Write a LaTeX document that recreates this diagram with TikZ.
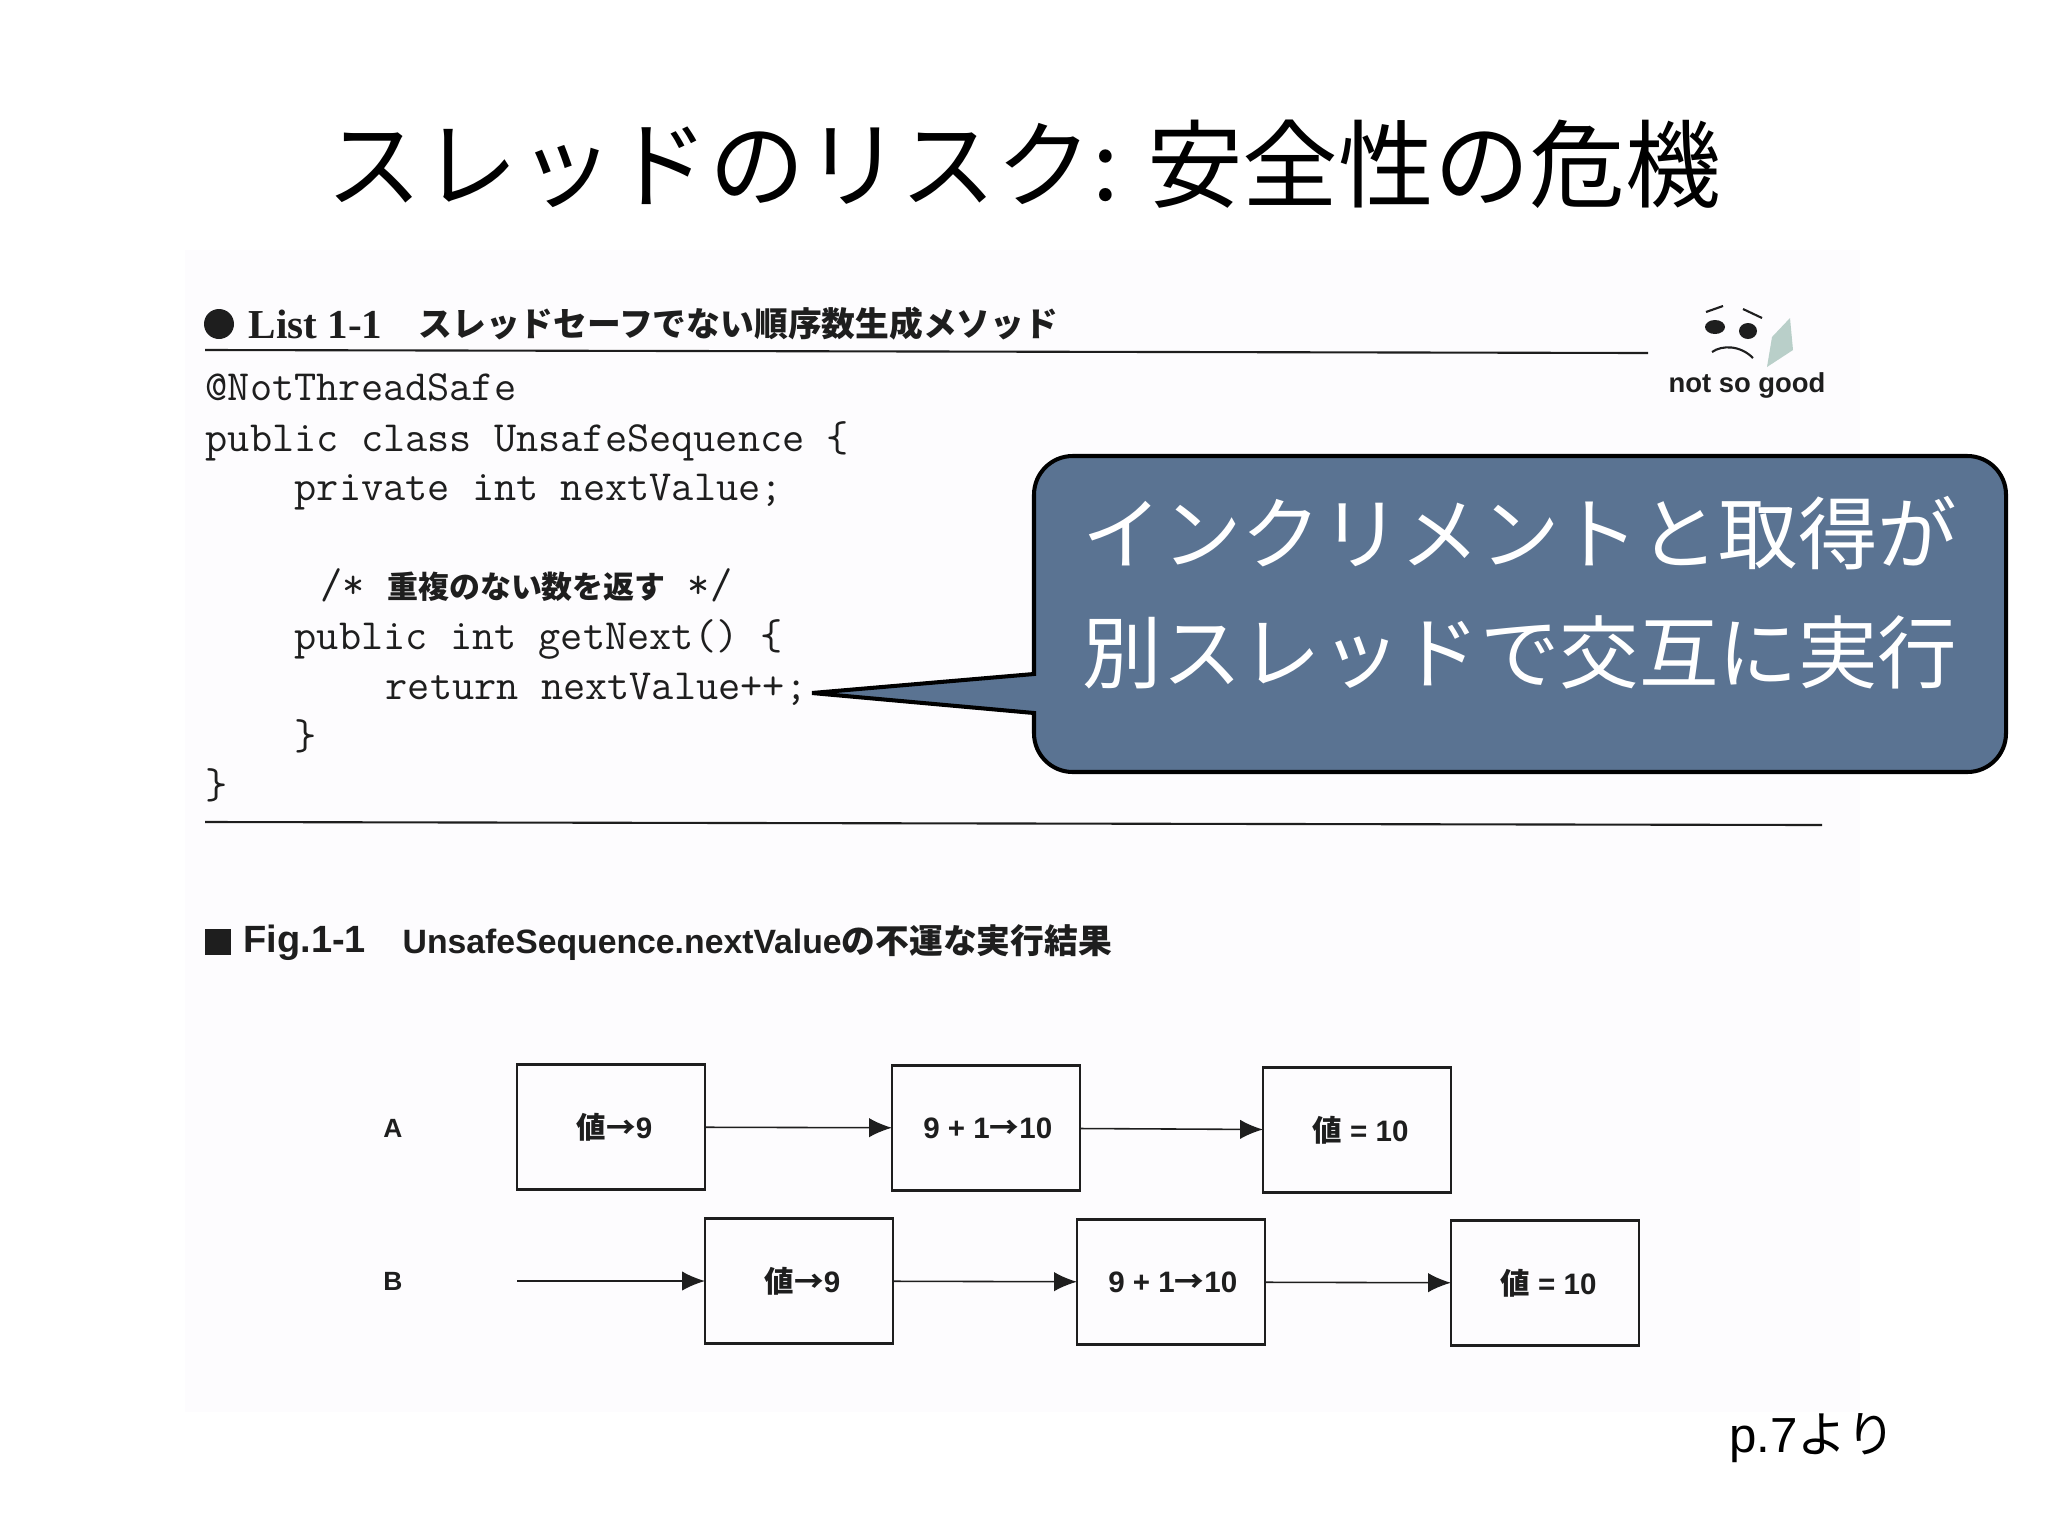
\documentclass[tikz,border=0pt]{standalone}
\usepackage{fontspec}
\setmainfont{Liberation Sans}
\newfontfamily\cjk{Noto Sans CJK JP}
\newfontfamily\listserif{Liberation Serif}
\usetikzlibrary{arrows.meta}
\definecolor{scanpaper}{HTML}{FDFCFE}
\definecolor{bubbleblue}{HTML}{5A7392}
\definecolor{scanink}{HTML}{1E1E1E}
\definecolor{pagegreen}{HTML}{B9CFC9}
\tikzset{
    box/.style={draw=scanink, line width=0.6pt, minimum width=188*0.2845pt, minimum height=125*0.2845pt, inner sep=0pt, outer sep=0pt, font=\fontsize{8.4}{10}\selectfont\bfseries, text=scanink},
    code/.style={anchor=west, inner sep=0pt, text height=8.5pt, text depth=2.5pt, font=\fontsize{12.25}{14}\selectfont\ttfamily, text=scanink},
    flow/.style={-{Latex[length=6.5pt,width=5.5pt]}, draw=scanink, line width=0.45pt},
    rowlabel/.style={font=\fontsize{7.5}{9}\selectfont\bfseries, text=scanink},
    scanrule/.style={draw=scanink, line width=0.6pt},
}
\begin{document}
\begin{tikzpicture}[x=0.01cm, y=-0.01cm]
        \useasboundingbox (0, 0) rectangle (2048, 1536);
        \fill[white] (0, 0) rectangle (2048, 1536);
        \fill[scanpaper] (185, 250) rectangle (1860, 1412);
        \node (title) at (1024, 164) {\fontsize{27.2}{32}\selectfont\cjk スレッドのリスク: 安全性の危機};
        % list
        \fill[scanink] (219, 324) circle (15);
        \node[anchor=west, inner sep=0pt, text=scanink] (listno) at (248, 324) {\fontsize{11.7}{13}\selectfont\bfseries\listserif List 1-1};
        \node[anchor=west, inner sep=0pt, text=scanink] (listtitle) at (418, 324) {\fontsize{9.6}{12}\selectfont\cjk\bfseries スレッドセーフでない順序数生成メソッド};
        \draw[scanrule] (205, 350) -- (1648, 353);
        \node[code] (c1) at (205, 390) {@NotThreadSafe};
        \node[code] (c2) at (205, 441) {public class UnsafeSequence \{};
        \node[code] (c3) at (294, 490) {private int nextValue;};
        \node[code] (c4) at (320, 588) {/* {\fontsize{8.8}{11}\selectfont\cjk\bfseries 重複のない数を返す} */};
        \node[code] (c5) at (294, 639) {public int getNext() \{};
        \node[code] (c6) at (385, 689) {return nextValue++;};
        \node[code] (c7) at (294, 739) {\}};
        \node[code] (c8) at (205, 788) {\}};
        \draw[scanrule] (205, 822) -- (1822, 825);
        % not so good
        \fill[pagegreen] (1767, 367) -- (1772, 337) -- (1790, 318) -- (1793, 350) -- cycle;
        \fill[scanink] (1715, 327) ellipse (10 and 7);
        \fill[scanink] (1748, 331) ellipse (9 and 8);
        \draw[scanink, line width=0.6pt] (1706, 312) -- (1723, 306);
        \draw[scanink, line width=0.6pt] (1743, 309) -- (1762, 318);
        \draw[scanink, line width=0.6pt] (1712, 352) .. controls (1722, 345) and (1740, 345) .. (1753, 358);
        \node[text=scanink] (notgood) at (1747, 385) {\fontsize{7.8}{10}\selectfont\bfseries not so good};
        % fig
        \fill[scanink] (205, 929) rectangle (231, 955);
        \node[anchor=west, inner sep=0pt, text=scanink] (figno) at (243, 943) {\fontsize{10.8}{12}\selectfont\bfseries Fig.1-1};
        \node[anchor=west, inner sep=0pt, text=scanink] (figtitle) at (402, 943) {\fontsize{9.6}{12}\selectfont\bfseries UnsafeSequence.nextValue{\cjk の不運な実行結果}};
        \node[rowlabel] (rowA) at (393, 1128) {A};
        \node[rowlabel] (rowB) at (393, 1281) {B};
        \node[box] (A1) at (611, 1127) {\hspace{2pt}{\cjk 値→}9};
        \node[box] (A2) at (986, 1128) {\hspace{1pt}9 + 1{\cjk →}10};
        \node[box] (A3) at (1357, 1130) {\hspace{2pt}{\cjk 値} = 10};
        \node[box] (B1) at (799, 1281) {\hspace{2pt}{\cjk 値→}9};
        \node[box] (B2) at (1171, 1282) {\hspace{1pt}9 + 1{\cjk →}10};
        \node[box] (B3) at (1545, 1283) {\hspace{2pt}{\cjk 値} = 10};
        \coordinate (Bstart) at (517, 1281);
        \draw (A1) edge[flow] (A2);
        \draw (A2) edge[flow] (A3);
        \draw (Bstart) edge[flow] (B1);
        \draw (B1) edge[flow] (B2);
        \draw (B2) edge[flow] (B3);
        % callout
        \coordinate (tip) at (812, 693);
        \draw[fill=bubbleblue, draw=black, line width=1.15pt, line join=miter] (tip) -- (1034, 674) [rounded corners=11pt] -- (1034, 456) -- (2006, 456) -- (2006, 772) -- (1034, 772) [sharp corners] -- (1034, 713) -- cycle;
        \node[text=white, align=center, inner sep=0pt, font=\fontsize{22.6}{33.8}\selectfont\cjk] (bubble) at (1520, 593) {インクリメントと取得が\\別スレッドで交互に実行};
        \node[anchor=east, inner sep=0pt] (page) at (1896, 1438) {\fontsize{14}{16}\selectfont p.7{\cjk より}};
    \end{tikzpicture}
\end{document}
